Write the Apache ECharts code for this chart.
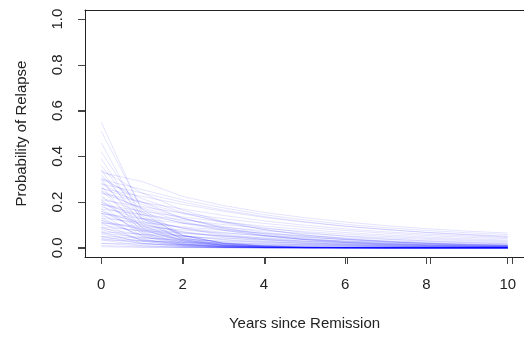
<!DOCTYPE html>
<html lang="en">
<head>
    <meta charset="utf-8">
    <title>Probability of Relapse</title>
    <script src="https://cdn.jsdelivr.net/npm/echarts@6/dist/echarts.min.js"></script>
    <style>
        html, body { margin: 0; padding: 0; background: #fff; }
        #relapse { width: 524px; height: 337px; }
    </style>
</head>
<body>
<div id="relapse"></div>
<script type="text/javascript">
    // years since remission (x of every curve)
    var years = [0, 1, 2, 3, 4, 5, 6, 7, 8, 9, 10];
    var xTicks = [0, 2, 4, 6, 8, 10];
    var yTicks = [0, 0.2, 0.4, 0.6, 0.8, 1.0];

    // slowly decaying curves
    var slowCurves = [
        [0.33, 0.29, 0.225, 0.185, 0.155, 0.132, 0.113, 0.097, 0.084, 0.073, 0.065],
        [0.30, 0.255, 0.21, 0.175, 0.145, 0.122, 0.103, 0.088, 0.076, 0.066, 0.058],
        [0.28, 0.24, 0.2, 0.165, 0.137, 0.114, 0.095, 0.08, 0.067, 0.057, 0.048],
        [0.26, 0.225, 0.19, 0.16, 0.133, 0.112, 0.094, 0.08, 0.068, 0.059, 0.051],
        [0.24, 0.2, 0.17, 0.142, 0.118, 0.099, 0.083, 0.07, 0.06, 0.052, 0.045],
        [0.21, 0.18, 0.152, 0.128, 0.107, 0.09, 0.076, 0.064, 0.054, 0.046, 0.04],
        [0.19, 0.16, 0.135, 0.113, 0.095, 0.08, 0.067, 0.056, 0.047, 0.04, 0.034],
        [0.17, 0.145, 0.122, 0.102, 0.085, 0.071, 0.06, 0.05, 0.042, 0.035, 0.03],
        [0.15, 0.128, 0.107, 0.09, 0.075, 0.063, 0.052, 0.044, 0.037, 0.031, 0.026],
        [0.13, 0.11, 0.092, 0.077, 0.064, 0.053, 0.044, 0.037, 0.031, 0.026, 0.022],
        [0.11, 0.093, 0.078, 0.065, 0.054, 0.045, 0.037, 0.031, 0.026, 0.022, 0.018],
        [0.09, 0.076, 0.064, 0.053, 0.044, 0.036, 0.03, 0.025, 0.021, 0.017, 0.014],
        [0.07, 0.06, 0.05, 0.042, 0.035, 0.029, 0.024, 0.02, 0.016, 0.013, 0.011],
        [0.05, 0.043, 0.036, 0.03, 0.025, 0.021, 0.017, 0.014, 0.012, 0.01, 0.008],
        [0.035, 0.03, 0.025, 0.021, 0.017, 0.014, 0.012, 0.01, 0.008, 0.007, 0.006],
        [0.02, 0.017, 0.014, 0.012, 0.01, 0.008, 0.007, 0.006, 0.005, 0.004, 0.003]
    ];

    // medium curves
    var midCurves = [
        [0.34, 0.24, 0.165, 0.115, 0.08, 0.056, 0.039, 0.027, 0.019, 0.013, 0.009],
        [0.31, 0.2, 0.13, 0.085, 0.055, 0.036, 0.023, 0.015, 0.01, 0.006, 0.004],
        [0.30, 0.215, 0.155, 0.11, 0.08, 0.057, 0.041, 0.029, 0.021, 0.015, 0.011],
        [0.28, 0.19, 0.13, 0.088, 0.06, 0.041, 0.028, 0.019, 0.013, 0.009, 0.006],
        [0.26, 0.2, 0.15, 0.115, 0.088, 0.067, 0.051, 0.039, 0.03, 0.023, 0.017],
        [0.25, 0.17, 0.115, 0.078, 0.053, 0.036, 0.024, 0.016, 0.011, 0.008, 0.005],
        [0.24, 0.175, 0.128, 0.093, 0.068, 0.05, 0.036, 0.026, 0.019, 0.014, 0.01],
        [0.22, 0.155, 0.108, 0.076, 0.053, 0.037, 0.026, 0.018, 0.013, 0.009, 0.006],
        [0.20, 0.13, 0.085, 0.055, 0.036, 0.023, 0.015, 0.01, 0.006, 0.004, 0.003],
        [0.19, 0.145, 0.11, 0.083, 0.063, 0.048, 0.036, 0.028, 0.021, 0.016, 0.012],
        [0.18, 0.125, 0.087, 0.06, 0.042, 0.029, 0.02, 0.014, 0.01, 0.007, 0.005],
        [0.16, 0.105, 0.069, 0.045, 0.03, 0.019, 0.013, 0.008, 0.005, 0.004, 0.002],
        [0.15, 0.115, 0.088, 0.067, 0.051, 0.039, 0.03, 0.023, 0.017, 0.013, 0.01],
        [0.14, 0.1, 0.071, 0.05, 0.036, 0.025, 0.018, 0.013, 0.009, 0.006, 0.005],
        [0.12, 0.08, 0.053, 0.035, 0.023, 0.015, 0.01, 0.007, 0.004, 0.003, 0.002],
        [0.11, 0.085, 0.066, 0.051, 0.039, 0.03, 0.023, 0.018, 0.014, 0.011, 0.008],
        [0.10, 0.072, 0.052, 0.037, 0.027, 0.019, 0.014, 0.01, 0.007, 0.005, 0.004],
        [0.085, 0.058, 0.04, 0.027, 0.018, 0.013, 0.009, 0.006, 0.004, 0.003, 0.002],
        [0.065, 0.045, 0.031, 0.021, 0.015, 0.01, 0.007, 0.005, 0.003, 0.002, 0.002],
        [0.045, 0.032, 0.022, 0.016, 0.011, 0.008, 0.005, 0.004, 0.003, 0.002, 0.001]
    ];

    // quickly decaying curves
    var fastCurves = [
        [0.55, 0.16, 0.045, 0.013, 0.004, 0.001, 0, 0, 0, 0, 0],
        [0.51, 0.17, 0.056, 0.019, 0.006, 0.002, 0.001, 0, 0, 0, 0],
        [0.46, 0.13, 0.037, 0.01, 0.003, 0.001, 0, 0, 0, 0, 0],
        [0.42, 0.15, 0.054, 0.019, 0.007, 0.002, 0.001, 0, 0, 0, 0],
        [0.39, 0.12, 0.037, 0.011, 0.004, 0.001, 0, 0, 0, 0, 0],
        [0.36, 0.14, 0.055, 0.021, 0.008, 0.003, 0.001, 0, 0, 0, 0],
        [0.34, 0.10, 0.03, 0.009, 0.003, 0.001, 0, 0, 0, 0, 0],
        [0.32, 0.13, 0.053, 0.021, 0.009, 0.003, 0.001, 0.001, 0, 0, 0],
        [0.30, 0.085, 0.024, 0.007, 0.002, 0.001, 0, 0, 0, 0, 0],
        [0.29, 0.11, 0.042, 0.016, 0.006, 0.002, 0.001, 0, 0, 0, 0],
        [0.27, 0.07, 0.018, 0.005, 0.001, 0, 0, 0, 0, 0, 0],
        [0.25, 0.09, 0.032, 0.012, 0.004, 0.002, 0.001, 0, 0, 0, 0],
        [0.23, 0.06, 0.016, 0.004, 0.001, 0, 0, 0, 0, 0, 0],
        [0.21, 0.08, 0.03, 0.011, 0.004, 0.002, 0.001, 0, 0, 0, 0],
        [0.20, 0.095, 0.045, 0.021, 0.01, 0.005, 0.002, 0.001, 0.001, 0, 0],
        [0.19, 0.05, 0.013, 0.003, 0.001, 0, 0, 0, 0, 0, 0],
        [0.17, 0.065, 0.025, 0.01, 0.004, 0.001, 0, 0, 0, 0, 0],
        [0.16, 0.075, 0.035, 0.016, 0.008, 0.004, 0.002, 0.001, 0, 0, 0],
        [0.15, 0.04, 0.011, 0.003, 0.001, 0, 0, 0, 0, 0, 0],
        [0.13, 0.05, 0.019, 0.007, 0.003, 0.001, 0, 0, 0, 0, 0],
        [0.12, 0.055, 0.025, 0.012, 0.005, 0.003, 0.001, 0.001, 0, 0, 0],
        [0.11, 0.03, 0.008, 0.002, 0.001, 0, 0, 0, 0, 0, 0],
        [0.09, 0.035, 0.014, 0.005, 0.002, 0.001, 0, 0, 0, 0, 0],
        [0.08, 0.035, 0.016, 0.007, 0.003, 0.001, 0.001, 0, 0, 0, 0],
        [0.07, 0.02, 0.006, 0.002, 0, 0, 0, 0, 0, 0, 0],
        [0.06, 0.028, 0.013, 0.006, 0.003, 0.001, 0.001, 0, 0, 0, 0],
        [0.05, 0.018, 0.007, 0.002, 0.001, 0, 0, 0, 0, 0, 0],
        [0.04, 0.02, 0.01, 0.005, 0.002, 0.001, 0.001, 0, 0, 0, 0],
        [0.035, 0.01, 0.003, 0.001, 0, 0, 0, 0, 0, 0, 0],
        [0.02, 0.008, 0.003, 0.001, 0, 0, 0, 0, 0, 0, 0],
        [0.01, 0.004, 0.002, 0.001, 0, 0, 0, 0, 0, 0, 0],
        [0.005, 0.002, 0.001, 0, 0, 0, 0, 0, 0, 0, 0]
    ];

    var allCurves = slowCurves.concat(midCurves, fastCurves);
    var series = [];
    for (var i = 0; i < allCurves.length; i++) {
        var pts = [];
        for (var j = 0; j < years.length; j++) {
            pts.push([years[j], allCurves[i][j]]);
        }
        series.push({
            type: 'line',
            xAxisIndex: 0, yAxisIndex: 0,
            data: pts,
            showSymbol: false,
            silent: true,
            lineStyle: { color: 'rgba(0,0,255,0.11)', width: 1 }
        });
    }

    var chart = echarts.init(document.getElementById('relapse'), null, { renderer: 'canvas' });
    var font = 'Liberation Sans, Arial, sans-serif';
    var ink = '#222';
    var boxLine = { show: true, onZero: false, lineStyle: { color: ink, width: 1 } };
    var tickStyle = { show: true, lineStyle: { color: '#444', width: 1 } };
    chart.setOption({
        animation: false,
        backgroundColor: '#fff',
        grid: [
            // data box, range padded by 4% each side (box drawn by the four axis lines)
            { left: 85, top: 10, width: 444, height: 247 },
            // strip under the box for the x ticks
            { left: 101, top: 257, width: 411, height: 7 },
            // strip left of the box for the y ticks
            { left: 78, top: 19.6, width: 7, height: 228.1 }
        ],
        xAxis: [{
            type: 'value', gridIndex: 0, position: 'bottom',
            min: -0.4, max: 10.4,
            name: 'Years since Remission',
            nameLocation: 'middle',
            nameGap: 59,
            nameTextStyle: { fontFamily: font, fontSize: 15, color: ink },
            axisLine: boxLine,
            axisTick: { show: true, inside: false, length: 7, customValues: xTicks, lineStyle: { color: '#444', width: 1 } },
            axisLabel: { customValues: xTicks, margin: 20, fontFamily: font, fontSize: 15, color: ink },
            splitLine: { show: false }
        }, {
            // top side of the box
            type: 'value', gridIndex: 0, position: 'top', min: 0, max: 1,
            axisLine: boxLine, axisTick: { show: false }, axisLabel: { show: false },
            splitLine: { show: false }
        }, {
            type: 'value', gridIndex: 1, min: 0, max: 10, interval: 2,
            axisLine: { show: false }, axisTick: { show: false }, axisLabel: { show: false },
            splitLine: tickStyle
        }, {
            type: 'value', gridIndex: 2, show: false, min: 0, max: 1
        }],
        yAxis: [{
            type: 'value', gridIndex: 0, position: 'left',
            min: -0.04, max: 1.04,
            name: 'Probability of Relapse',
            nameLocation: 'middle',
            nameGap: 56,
            nameTextStyle: { fontFamily: font, fontSize: 15, color: ink },
            axisLine: boxLine,
            axisTick: { show: true, inside: false, length: 7, customValues: yTicks, lineStyle: { color: '#444', width: 1 } },
            axisLabel: {
                customValues: yTicks, rotate: 90, margin: 20,
                fontFamily: font, fontSize: 15, color: ink,
                formatter: function (v) { return v.toFixed(1); }
            },
            splitLine: { show: false }
        }, {
            // right side of the box
            type: 'value', gridIndex: 0, position: 'right', min: 0, max: 1,
            axisLine: boxLine, axisTick: { show: false }, axisLabel: { show: false },
            splitLine: { show: false }
        }, {
            type: 'value', gridIndex: 1, show: false, min: 0, max: 1
        }, {
            type: 'value', gridIndex: 2, min: 0, max: 1, interval: 0.2,
            axisLine: { show: false }, axisTick: { show: false }, axisLabel: { show: false },
            splitLine: tickStyle
        }],
        series: series
    });
</script>
</body>
</html>
